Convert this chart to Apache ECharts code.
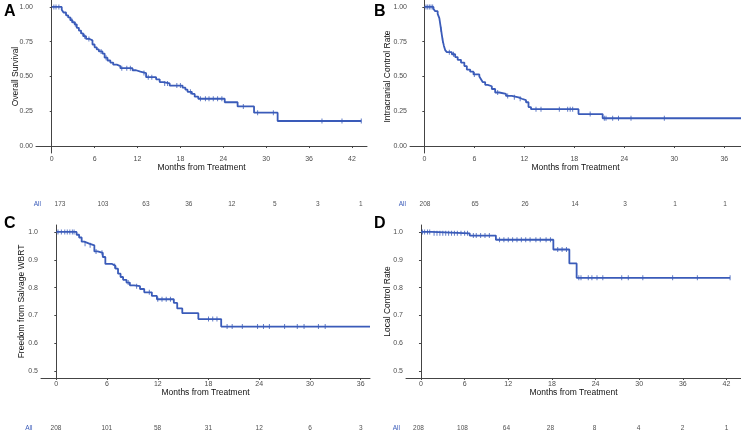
<!DOCTYPE html>
<html>
<head>
<meta charset="utf-8">
<script src="https://cdn.jsdelivr.net/npm/echarts@6/dist/echarts.min.js"></script>
<style>html,body{margin:0;padding:0;background:#fff}#c{width:741px;height:433px}</style>
</head>
<body>
<div id="c"></div>
<script>
// ---- Data ----
const monthTicksA = [0, 6, 12, 18, 24, 30, 36, 42];
const monthTicksB = [0, 6, 12, 18, 24, 30, 36];
const survTicksAB = [0, 0.25, 0.5, 0.75, 1.0];
const survTicksCD = [0.5, 0.6, 0.7, 0.8, 0.9, 1.0];

// Panel A: Overall Survival
const timesA = [0, 1.4, 1.65, 2.0, 2.3, 2.6, 2.9, 3.2, 3.5, 3.8, 4.1, 4.4, 4.8, 5.3, 5.7, 6.0, 6.3, 6.6, 7.1, 7.4, 7.8, 8.2, 8.6, 9.1, 9.6, 11.3, 11.8, 12.4, 13.2, 14.6, 15.1, 15.6, 16.5, 18.3, 18.7, 19.0, 19.6, 20.0, 20.5, 24.2, 26.0, 28.3, 31.6];
const survA = [1.0, 0.98, 0.96, 0.94, 0.925, 0.905, 0.89, 0.875, 0.85, 0.83, 0.81, 0.79, 0.77, 0.76, 0.73, 0.71, 0.695, 0.68, 0.665, 0.635, 0.615, 0.6, 0.585, 0.575, 0.56, 0.545, 0.535, 0.525, 0.495, 0.48, 0.46, 0.45, 0.435, 0.42, 0.405, 0.39, 0.375, 0.355, 0.34, 0.315, 0.285, 0.24, 0.18];
const endA = 43.3;
const censorA = [0.3, 0.6, 1.0, 2.8, 3.3, 4.6, 5.2, 6.9, 7.6, 9.8, 10.5, 11.0, 12.9, 13.5, 14.0, 15.8, 16.2, 17.5, 18.0, 19.4, 20.8, 21.5, 22.0, 22.6, 23.2, 23.8, 26.8, 28.8, 31.0, 37.8, 40.6, 43.3];
const riskA = [173, 103, 63, 36, 12, 5, 3, 1];

// Panel B: Intracranial Control Rate
const timesB = [0, 1.1, 1.3, 1.6, 1.8, 1.9, 2.0, 2.1, 2.2, 2.35, 2.5, 2.7, 3.3, 3.7, 4.0, 4.4, 4.8, 5.1, 5.5, 5.9, 6.6, 6.8, 7.0, 7.3, 7.6, 8.1, 8.5, 9.0, 9.8, 10.5, 11.3, 11.7, 12.2, 12.5, 12.8, 18.5, 21.4];
const survB = [1.0, 0.985, 0.97, 0.95, 0.92, 0.88, 0.84, 0.8, 0.76, 0.72, 0.69, 0.675, 0.66, 0.64, 0.62, 0.6, 0.575, 0.55, 0.535, 0.515, 0.5, 0.48, 0.46, 0.44, 0.43, 0.41, 0.385, 0.375, 0.36, 0.35, 0.34, 0.33, 0.315, 0.28, 0.265, 0.23, 0.2];
const endB = 38.0;
const censorB = [0.2, 0.4, 0.6, 0.8, 1.0, 2.0, 2.2, 3.0, 3.5, 6.0, 8.8, 10.0, 10.8, 11.5, 13.4, 14.0, 16.2, 17.2, 17.5, 17.8, 19.9, 21.6, 21.8, 22.6, 23.3, 24.8, 28.8];
const riskB = [208, 65, 26, 14, 3, 1, 1];

// Panel C: Freedom from Salvage WBRT
const timesC = [0, 2.4, 2.7, 3.0, 3.3, 3.9, 4.5, 4.9, 5.5, 5.8, 6.6, 7.0, 7.3, 7.6, 7.9, 8.3, 8.7, 9.2, 9.9, 10.4, 11.3, 11.9, 13.9, 14.3, 14.9, 16.8, 19.5];
const survC = [1.0, 0.99, 0.98, 0.965, 0.958, 0.952, 0.93, 0.925, 0.91, 0.885, 0.878, 0.868, 0.85, 0.838, 0.828, 0.818, 0.808, 0.805, 0.795, 0.783, 0.77, 0.758, 0.745, 0.725, 0.708, 0.687, 0.66];
const endC = 37.1;
const censorC = [0.2, 0.6, 1.0, 1.3, 1.6, 1.9, 2.1, 3.4, 4.0, 4.7, 5.4, 6.9, 8.5, 9.5, 11.0, 12.0, 12.5, 13.0, 13.5, 18.0, 18.5, 19.0, 20.2, 20.8, 22.0, 23.8, 24.5, 25.2, 27.0, 28.5, 29.3, 31.0, 31.8];
const riskC = [208, 101, 58, 31, 12, 6, 3];

// Panel D: Local Control Rate
const timesD = [0, 1.5, 6.7, 10.3, 18.2, 20.4, 21.4];
const survD = [1.0, 0.995, 0.987, 0.972, 0.937, 0.887, 0.835];
const endD = 42.5;
const censorD = [0.2, 0.5, 0.9, 1.2, 1.8, 2.2, 2.6, 3.0, 3.4, 3.8, 4.2, 4.6, 5.0, 5.5, 6.0, 6.4, 7.2, 7.6, 8.2, 8.8, 9.4, 10.8, 11.4, 12.0, 12.6, 13.2, 13.8, 14.4, 15.0, 15.8, 16.4, 17.2, 17.8, 18.8, 19.4, 20.0, 21.7, 22.0, 23.0, 23.5, 24.2, 25.0, 27.6, 28.5, 30.5, 34.6, 38.0, 42.5];
const riskD = [208, 108, 64, 28, 8, 4, 2, 1];

const yTitles = ['Overall Survival', 'Intracranial Control Rate', 'Freedom from Salvage WBRT', 'Local Control Rate'];
const xTitle = 'Months from Treatment';
const panelLetters = ['A', 'B', 'C', 'D'];
const riskLabel = 'All';

// ---- Build ----
const COLOR = '#3a5bb9';
const FONT = 'Liberation Sans, Arial, sans-serif';

function stepData(t, s, end) {
  const d = t.map((v, i) => [v, s[i]]);
  d.push([end, s[s.length - 1]]);
  return d;
}
function survAt(t, s, x) {
  let v = s[0];
  for (let i = 0; i < t.length; i++) { if (t[i] <= x) v = s[i]; }
  return v;
}
function censorData(t, s, c) { return c.map(x => [x, survAt(t, s, x)]); }

const panels = [
  {t: timesA, s: survA, end: endA, c: censorA, risk: riskA, ticks: monthTicksA, yt: survTicksAB, dec: 2,
   grid: {left: 36, top: 0, width: 331, height: 153}, xr: [-2.2, 44.1], yr: [-0.05, 1.05], nameGap: 16,
   rgrid: {left: 45, top: 199, width: 325, height: 10}, rxr: [-2.095, 43.3], rmargin: 4},
  {t: timesB, s: survB, end: endB, c: censorB, risk: riskB, ticks: monthTicksB, yt: survTicksAB, dec: 2,
   grid: {left: 410, top: 0, width: 331, height: 153}, xr: [-1.72, 38.0], yr: [-0.05, 1.05], nameGap: 18,
   rgrid: {left: 410, top: 199, width: 331, height: 10}, rxr: [-1.8, 37.92], rmargin: 4},
  {t: timesC, s: survC, end: endC, c: censorC, risk: riskC, ticks: monthTicksB, yt: survTicksCD, dec: 1,
   grid: {left: 41, top: 225, width: 329, height: 153}, xr: [-1.81, 37.1], yr: [0.475, 1.025], nameGap: 14.5,
   rgrid: {left: 38, top: 423, width: 332, height: 10}, rxr: [-2.126, 37.08], rmargin: 5.5},
  {t: timesD, s: survD, end: endD, c: censorD, risk: riskD, ticks: monthTicksA, yt: survTicksCD, dec: 1,
   grid: {left: 406, top: 225, width: 335, height: 153}, xr: [-2.06, 44.0], yr: [0.475, 1.025], nameGap: 14,
   rgrid: {left: 405, top: 423, width: 336, height: 10}, rxr: [-1.84, 43.98], rmargin: 5}
];

const grid = [], xAxis = [], yAxis = [], series = [];
const axisLine = {show: true, lineStyle: {color: '#444', width: 1}};
const axisTickStyle = {lineStyle: {color: '#444', width: 1}, length: 2};
const tickLabel = {color: '#4d4d4d', fontSize: 7, fontFamily: FONT};

panels.forEach((p, i) => {
  grid.push(Object.assign({containLabel: false}, p.grid));
  xAxis.push({
    type: 'value', gridIndex: i, min: p.xr[0], max: p.xr[1],
    name: xTitle, nameLocation: 'middle', nameGap: 10, nameMoveOverlap: false,
    nameTextStyle: {color: '#111', fontSize: 8.5, fontFamily: FONT},
    axisLine: axisLine, splitLine: {show: false},
    axisTick: Object.assign({show: true, customValues: p.ticks}, axisTickStyle),
    axisLabel: Object.assign({customValues: p.ticks, margin: 2.5}, tickLabel)
  });
  yAxis.push({
    type: 'value', gridIndex: i, min: p.yr[0], max: p.yr[1],
    name: yTitles[i], nameLocation: 'middle', nameGap: p.nameGap, nameRotate: 90, nameMoveOverlap: false,
    nameTextStyle: {color: '#111', fontSize: 8.5, fontFamily: FONT},
    axisLine: axisLine, splitLine: {show: false},
    axisTick: Object.assign({show: true, customValues: p.yt}, axisTickStyle),
    axisLabel: Object.assign({customValues: p.yt, margin: 3, formatter: v => v.toFixed(p.dec)}, tickLabel)
  });
  series.push({
    type: 'line', xAxisIndex: i, yAxisIndex: i, step: 'end', showSymbol: false, silent: true,
    data: stepData(p.t, p.s, p.end), lineStyle: {color: COLOR, width: 1.8}, animation: false
  });
  series.push({
    type: 'scatter', xAxisIndex: i, yAxisIndex: i, symbol: 'rect', symbolSize: [1, 5], silent: true,
    data: censorData(p.t, p.s, p.c), itemStyle: {color: COLOR, opacity: 0.8}, animation: false
  });
});

panels.forEach((p, i) => {
  const gi = 4 + i;
  grid.push(Object.assign({containLabel: false}, p.rgrid));
  xAxis.push({type: 'value', gridIndex: gi, min: p.rxr[0], max: p.rxr[1], show: false});
  yAxis.push({
    type: 'category', gridIndex: gi, data: [riskLabel],
    axisLine: {show: false}, axisTick: {show: false}, splitLine: {show: false},
    axisLabel: {color: COLOR, fontSize: 6.5, fontFamily: FONT, margin: p.rmargin}
  });
  series.push({
    type: 'scatter', xAxisIndex: gi, yAxisIndex: gi, symbolSize: 1, silent: true, animation: false,
    itemStyle: {color: 'rgba(0,0,0,0)'},
    data: p.risk.map((n, k) => [p.ticks[k], 0, n]),
    label: {show: true, position: 'inside', formatter: q => String(q.value[2]),
            color: '#222', fontSize: 6.5, fontFamily: FONT}
  });
});

const letterPos = [[4, 4], [374, 4], [4, 216], [374, 216]];
const graphic = panelLetters.map((L, i) => ({
  type: 'text', left: letterPos[i][0], top: letterPos[i][1], z: 100,
  style: {text: L, font: 'bold 16px ' + FONT, fill: '#000'}
}));

const chart = echarts.init(document.getElementById('c'), null, {renderer: 'canvas'});
chart.setOption({animation: false, grid, xAxis, yAxis, series, graphic});
</script>
</body>
</html>
